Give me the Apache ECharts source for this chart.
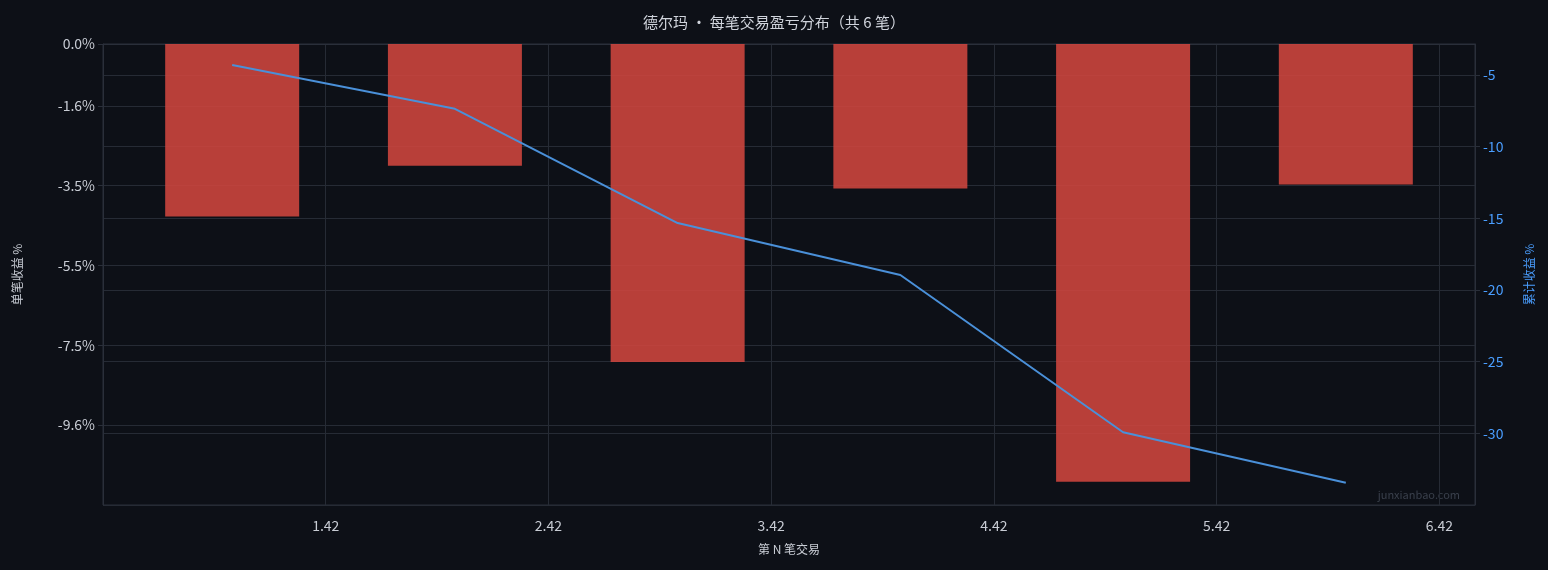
<!DOCTYPE html>
<html><head><meta charset="utf-8">
<script src="https://cdn.jsdelivr.net/npm/echarts@6/dist/echarts.min.js"></script>
<style>html,body{margin:0;background:#0d1017}#chart{width:1548px;height:570px}</style>
</head><body><div id="chart"></div>
<script>
var trades = [1, 2, 3, 4, 5, 6];
var tradeReturns = [-4.32, -3.05, -7.97, -3.62, -10.97, -3.52];
var cumReturns = [-4.32, -7.37, -15.34, -18.96, -29.93, -33.45];

var dom = document.getElementById("chart");
var myChart = echarts.init(dom);
var font = 'Noto Sans CJK SC';
option = {
    backgroundColor: '#0d1017',
    textStyle: { fontFamily: font },
    title: {
        text: '德尔玛 · 每笔交易盈亏分布（共 6 笔）',
        left: 'center', top: 10,
        textStyle: { color: '#d0d4dc', fontSize: 15, fontWeight: 'normal', fontFamily: font }
    },
    graphic: [{
        type: 'text', right: 88, bottom: 70,
        style: { text: 'junxianbao.com', fill: '#3a404c', fontSize: 11, fontFamily: font }
    }],
    grid: { left: 103, right: 73, top: 44, bottom: 65, show: true, borderColor: '#2a2f3a', backgroundColor: 'transparent' },
    xAxis: {
        type: 'value', min: 0.42, max: 6.58, interval: 1,
        name: '第 N 笔交易', nameLocation: 'middle', nameGap: 38,
        nameTextStyle: { color: '#c8ccd4', fontSize: 12 },
        axisLine: { lineStyle: { color: '#2a2f3a' } },
        axisTick: { show: false },
        axisLabel: { color: '#c8ccd4', fontSize: 14, margin: 14, showMinLabel: false, showMaxLabel: false },
        splitLine: { show: true, lineStyle: { color: '#262b35' } }
    },
    yAxis: [{
        type: 'value', min: -11.55, max: 0, interval: 2,
        name: '单笔收益 %', nameLocation: 'middle', nameGap: 80,
        nameTextStyle: { color: '#c8ccd4', fontSize: 12 },
        axisLine: { show: true, lineStyle: { color: '#2a2f3a' } },
        axisTick: { show: true, lineStyle: { color: '#2a2f3a' } },
        axisLabel: { color: '#c8ccd4', fontSize: 14, showMinLabel: false, formatter: function (v) { return v.toFixed(1) + '%'; } },
        splitLine: { lineStyle: { color: '#262b35' } }
    }, {
        type: 'value', min: -35, max: -2.85, interval: 5,
        name: '累计收益 %', nameLocation: 'middle', nameGap: 48,
        nameTextStyle: { color: '#4a9eff', fontSize: 12 },
        axisLine: { show: true, lineStyle: { color: '#2a2f3a' } },
        axisTick: { show: true, lineStyle: { color: '#2a2f3a' } },
        axisLabel: { color: '#4a9eff', fontSize: 14, showMinLabel: false, showMaxLabel: false },
        splitLine: { lineStyle: { color: '#262b35' } }
    }],
    series: [{
        type: 'bar', yAxisIndex: 0, barWidth: 134,
        data: trades.map(function (t, i) { return [t, tradeReturns[i]]; }),
        itemStyle: { color: '#d0453f', opacity: 0.88 }
    }, {
        type: 'line', yAxisIndex: 1, symbol: 'none',
        data: trades.map(function (t, i) { return [t, cumReturns[i]]; }),
        lineStyle: { color: '#4a90d9', width: 2 }, z: 5
    }]
};
myChart.setOption(option, true);
</script></body></html>
